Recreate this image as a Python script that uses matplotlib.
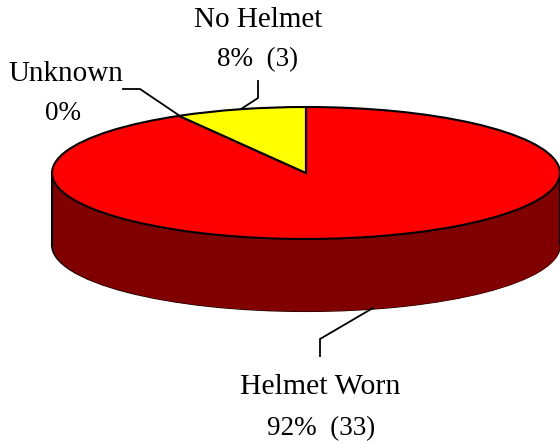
import numpy as np
import matplotlib
matplotlib.use('Agg')
import matplotlib.pyplot as plt

categories = ['Helmet Worn', 'No Helmet', 'Unknown']
counts = [33, 3, 0]
top_colors = ['#ff0000', '#ffff00', '#ffffff']
side_color = '#800000'

plt.rcParams['font.family'] = ['Liberation Serif', 'DejaVu Serif']

W, H = 560, 445
cx, cy, rx, ry = 306, 173, 254, 66
depth = 72 / ry

fig = plt.figure(figsize=(W / 100, H / 100), dpi=100)
ax = fig.add_axes([0, 0, 1, 1])

# side of the disc: shifted pie + band between the two rims
ax.pie([1], colors=[side_color], center=(0, -depth), radius=1,
       wedgeprops={'edgecolor': 'black', 'linewidth': 1.5})
xs = np.linspace(-1, 1, 200)
ax.fill_between(xs, -depth - np.sqrt(1 - xs ** 2), 0, color=side_color, lw=0)
ax.plot([-1, -1], [0, -depth], color='black', lw=1.5)
ax.plot([1, 1], [0, -depth], color='black', lw=1.5, clip_on=False)

# top of the disc
ax.pie(counts, colors=top_colors, startangle=90, counterclock=False, radius=1,
       wedgeprops={'edgecolor': 'black', 'linewidth': 1.5})

# pie() forces equal aspect, squash it back into an ellipse
ax.set_aspect('auto')
ax.set_xlim(-cx / rx, (W - cx) / rx)
ax.set_ylim((cy - H) / ry, cy / ry)
ax.axis('off')

# labels and leader lines in pixel coords
over = fig.add_axes([0, 0, 1, 1])
over.set_xlim(0, W)
over.set_ylim(H, 0)
over.axis('off')
over.patch.set_alpha(0)

total = sum(counts)
pct = [round(c / total * 100) for c in counts]
fs = 21
fs_pct = 19.5
over.text(320, 387, categories[0], ha='center', va='center', fontsize=fs + 0.5)
over.text(321, 429, f'{pct[0]}%  ({counts[0]})', ha='center', va='center', fontsize=fs_pct)
over.text(258, 20, categories[1], ha='center', va='center', fontsize=fs)
over.text(258, 60, f'{pct[1]}%  ({counts[1]})', ha='center', va='center', fontsize=fs_pct)
over.text(66, 74, categories[2], ha='center', va='center', fontsize=fs)
over.text(63, 114, f'{pct[2]}%', ha='center', va='center', fontsize=fs_pct)

over.plot([320, 320, 373], [356, 339, 308], color='black', lw=1.3)
over.plot([258, 258, 241], [81, 98, 109], color='black', lw=1.3)
over.plot([123, 140, 180], [89, 89, 116], color='black', lw=1.3)

fig.savefig('out.png', dpi=100)
